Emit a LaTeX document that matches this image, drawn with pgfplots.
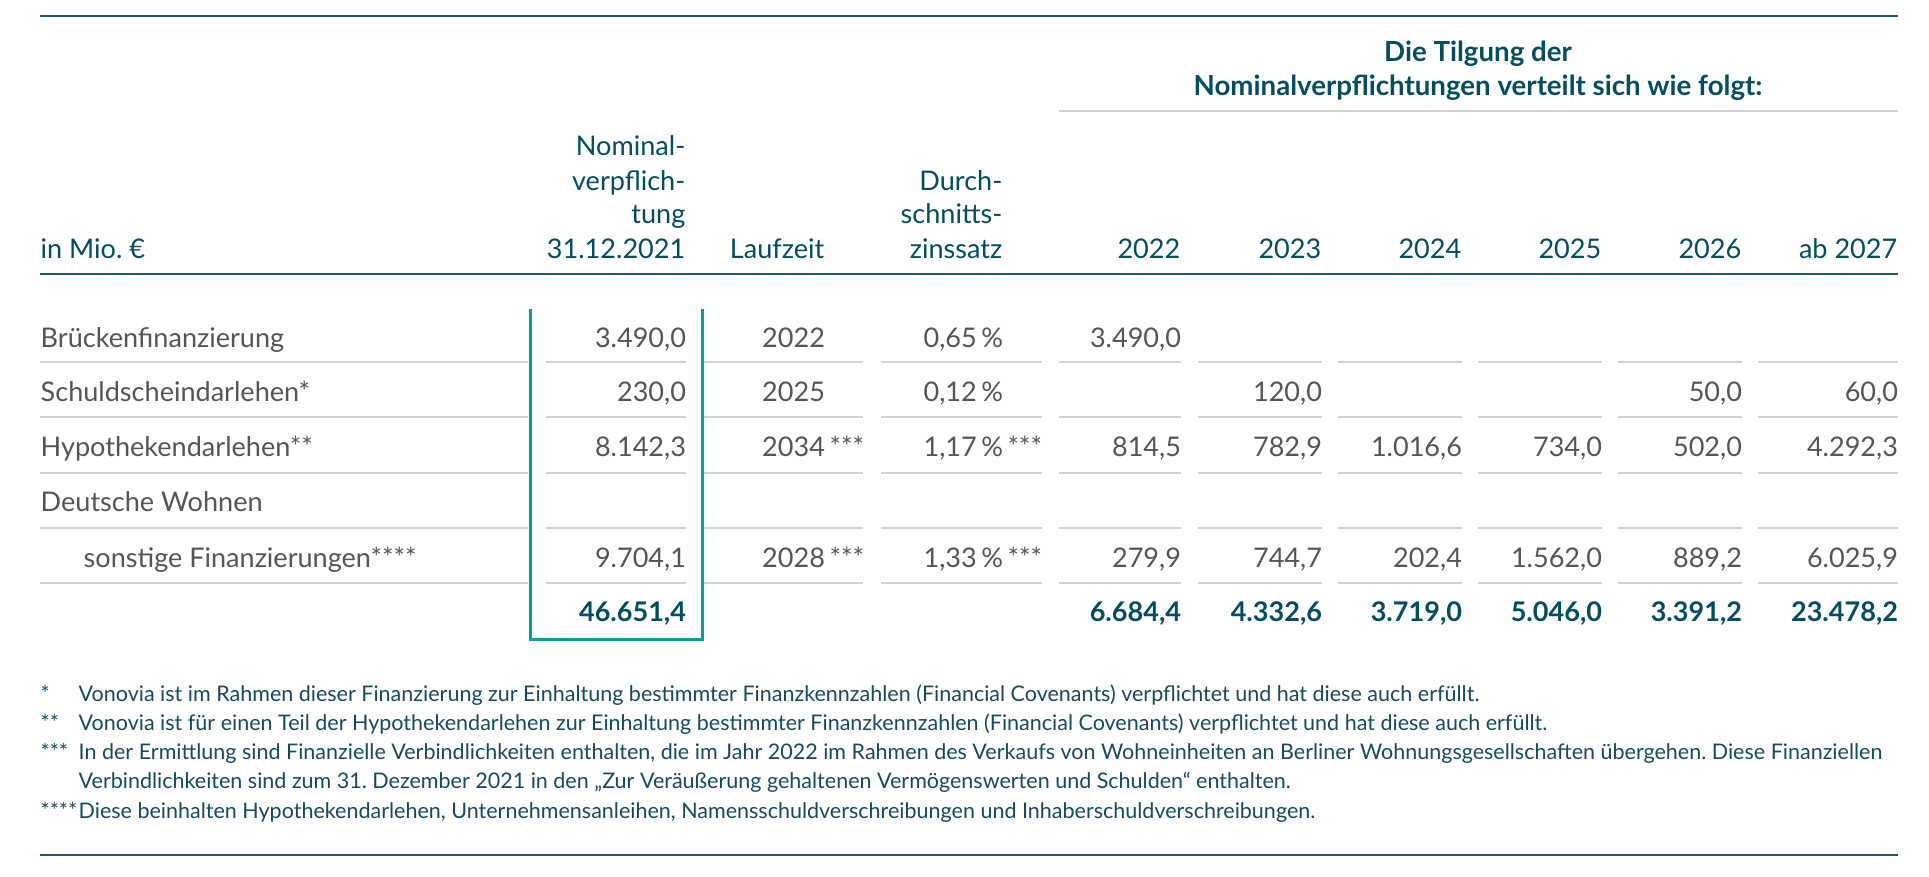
\documentclass[border=0pt]{standalone}
\usepackage{fontspec}
\setmainfont{Lato}
\usepackage{pgfplots}
\usepackage{pgfplotstable}
\pgfplotsset{compat=1.18}
\frenchspacing

\definecolor{headteal}{RGB}{0,78,96}
\definecolor{linecol}{RGB}{28,88,104}
\definecolor{bodygray}{RGB}{85,85,85}
\definecolor{rulegray}{RGB}{210,210,210}
\definecolor{boxteal}{RGB}{0,160,160}
\definecolor{notecol}{RGB}{20,75,95}

\newcommand\bodyfont{\fontsize{7.7}{9}\selectfont}
\newcommand\titlefont{\fontsize{7.87}{9}\selectfont\bfseries}
\newcommand\notefont{\fontsize{6.12}{7}\selectfont}

% positions: x = right edge of column, y = baseline (pixels of the 1929x876 page)
\pgfplotstableread{
x y v
686 347 3490.0
686 401 230.0
686 456 8142.3
686 567 9704.1
}\nominal

\pgfplotstableread{
x y v
825 347 2022
825 401 2025
}\laufzeit
\pgfplotstableread{
x y v
825 456 2034
825 567 2028
}\laufzeitfn

\pgfplotstableread{
x y v
1003 347 0.65
1003 401 0.12
}\zins
\pgfplotstableread{
x y v
1003 456 1.17
1003 567 1.33
}\zinsfn

\pgfplotstableread{
x y v
1181 347 3490.0
1322 401 120.0
1742 401 50.0
1898 401 60.0
1181 456 814.5
1322 456 782.9
1462 456 1016.6
1602 456 734.0
1742 456 502.0
1898 456 4292.3
1181 567 279.9
1322 567 744.7
1462 567 202.4
1602 567 1562.0
1742 567 889.2
1898 567 6025.9
}\tilgung

\pgfplotstableread{
x y v
686 621 46651.4
1181 621 6684.4
1322 621 4332.6
1462 621 3719.0
1602 621 5046.0
1742 621 3391.2
1898 621 23478.2
}\summe

\pgfplotsset{
  cell/.style={draw=none, mark=none, nodes near coords, point meta=explicit,
    every node near coord/.style={anchor=base east, inner sep=0pt, outer sep=0pt,
      text=bodygray, font=\bodyfont}},
  eur/.style={nodes near coords={\pgfmathprintnumber[fixed, fixed zerofill, precision=1,
      use comma, 1000 sep={.}, assume math mode=true]{\pgfplotspointmeta}}},
}

\begin{document}
\begin{tikzpicture}
\begin{axis}[
  width=19.29cm, height=8.76cm, scale only axis,
  xmin=0, xmax=1929, ymin=0, ymax=876, y dir=reverse,
  hide axis, clip=false,
]
\addplot[draw=none] coordinates {(0,0) (1929,876)};

% rules
\addplot[linecol, line width=0.65pt] coordinates {(40,16) (1898,16)};
\addplot[rulegray, line width=0.55pt] coordinates {(1059,111) (1898,111)};
\addplot[linecol, line width=0.65pt] coordinates {(40,274) (1898,274)};
\addplot[linecol, line width=0.65pt] coordinates {(40,855) (1898,855)};
\pgfplotsinvokeforeach{362,417,473,528,583}{
  \addplot[rulegray, line width=0.55pt, unbounded coords=jump] coordinates {
    (40,#1) (528,#1) (nan,nan) (546,#1) (686,#1) (nan,nan)
    (704,#1) (863,#1) (nan,nan) (881,#1) (1042,#1) (nan,nan)
    (1059,#1) (1181,#1) (nan,nan) (1198,#1) (1322,#1) (nan,nan)
    (1338,#1) (1462,#1) (nan,nan) (1478,#1) (1602,#1) (nan,nan)
    (1618,#1) (1742,#1) (nan,nan) (1758,#1) (1898,#1)};
}
\addplot[boxteal, line width=0.85pt, line join=miter] coordinates {(530,309) (530,639) (702,639) (702,309)};

% title and column heads
\node[anchor=base, inner sep=0pt, text=headteal, font=\titlefont] at (axis cs:1478,61) {Die Tilgung der};
\node[anchor=base, inner sep=0pt, text=headteal, font=\titlefont] at (axis cs:1478,95) {Nominalverpflichtungen verteilt sich wie folgt:};
\begin{scope}[every node/.style={anchor=base east, inner sep=0pt, text=headteal, font=\bodyfont}]
\node at (axis cs:686,155) {Nominal-};
\node at (axis cs:686,190) {verpflich-};
\node at (axis cs:686,223) {tung};
\node at (axis cs:686,258) {31.12.2021};
\node at (axis cs:825,258) {Laufzeit};
\node at (axis cs:1003,190) {Durch-};
\node at (axis cs:1003,223) {schnitts-};
\node at (axis cs:1003,258) {zinssatz};
\node at (axis cs:1181,258) {2022};
\node at (axis cs:1322,258) {2023};
\node at (axis cs:1462,258) {2024};
\node at (axis cs:1602,258) {2025};
\node at (axis cs:1742,258) {2026};
\node at (axis cs:1898,258) {ab 2027};
\end{scope}
\node[anchor=base west, inner sep=0pt, text=headteal, font=\bodyfont] at (axis cs:40,258) {in Mio.~€};

% row labels
\begin{scope}[every node/.style={anchor=base west, inner sep=0pt, text=bodygray, font=\bodyfont}]
\node at (axis cs:40,347) {Brückenfinanzierung};
\node at (axis cs:40,401) {Schuldscheindarlehen*};
\node at (axis cs:40,456) {Hypothekendarlehen**};
\node at (axis cs:40,511) {Deutsche Wohnen};
\node at (axis cs:83,567) {sonstige Finanzierungen****};
\end{scope}

% values
\addplot[cell, eur] table[x=x, y=y, meta=v] {\nominal};
\addplot[cell, eur] table[x=x, y=y, meta=v] {\tilgung};
\addplot[cell, eur, every node near coord/.append style={text=headteal, font=\bodyfont\bfseries}]
  table[x=x, y=y, meta=v] {\summe};
\addplot[cell, nodes near coords={\pgfmathprintnumber[fixed, precision=0, 1000 sep={}, assume math mode=true]{\pgfplotspointmeta}}]
  table[x=x, y=y, meta=v] {\laufzeit};
\addplot[cell, nodes near coords={\pgfmathprintnumber[fixed, precision=0, 1000 sep={}, assume math mode=true]{\pgfplotspointmeta}\rlap{\,***}}]
  table[x=x, y=y, meta=v] {\laufzeitfn};
\addplot[cell, nodes near coords={\pgfmathprintnumber[fixed, fixed zerofill, precision=2, use comma, assume math mode=true]{\pgfplotspointmeta}\,\%}]
  table[x=x, y=y, meta=v] {\zins};
\addplot[cell, nodes near coords={\pgfmathprintnumber[fixed, fixed zerofill, precision=2, use comma, assume math mode=true]{\pgfplotspointmeta}\,\%\rlap{\,***}}]
  table[x=x, y=y, meta=v] {\zinsfn};

% footnotes
\begin{scope}[every node/.style={anchor=base west, inner sep=0pt, text=notecol, font=\notefont}]
\node at (axis cs:40,701) {*};
\node at (axis cs:78,701) {Vonovia ist im Rahmen dieser Finanzierung zur Einhaltung bestimmter Finanzkennzahlen (Financial Covenants) verpflichtet und hat diese auch erfüllt.};
\node at (axis cs:40,730) {**};
\node at (axis cs:78,730) {Vonovia ist für einen Teil der Hypothekendarlehen zur Einhaltung bestimmter Finanzkennzahlen (Financial Covenants) verpflichtet und hat diese auch erfüllt.};
\node at (axis cs:40,759) {***};
\node at (axis cs:78,759) {In der Ermittlung sind Finanzielle Verbindlichkeiten enthalten, die im Jahr 2022 im Rahmen des Verkaufs von Wohneinheiten an Berliner Wohnungsgesellschaften übergehen. Diese Finanziellen};
\node at (axis cs:78,788) {Verbindlichkeiten sind zum 31. Dezember 2021 in den „Zur Veräußerung gehaltenen Vermögenswerten und Schulden“ enthalten.};
\node at (axis cs:40,818) {****};
\node at (axis cs:78,818) {Diese beinhalten Hypothekendarlehen, Unternehmensanleihen, Namensschuldverschreibungen und Inhaberschuldverschreibungen.};
\end{scope}
\end{axis}
\end{tikzpicture}
\end{document}
